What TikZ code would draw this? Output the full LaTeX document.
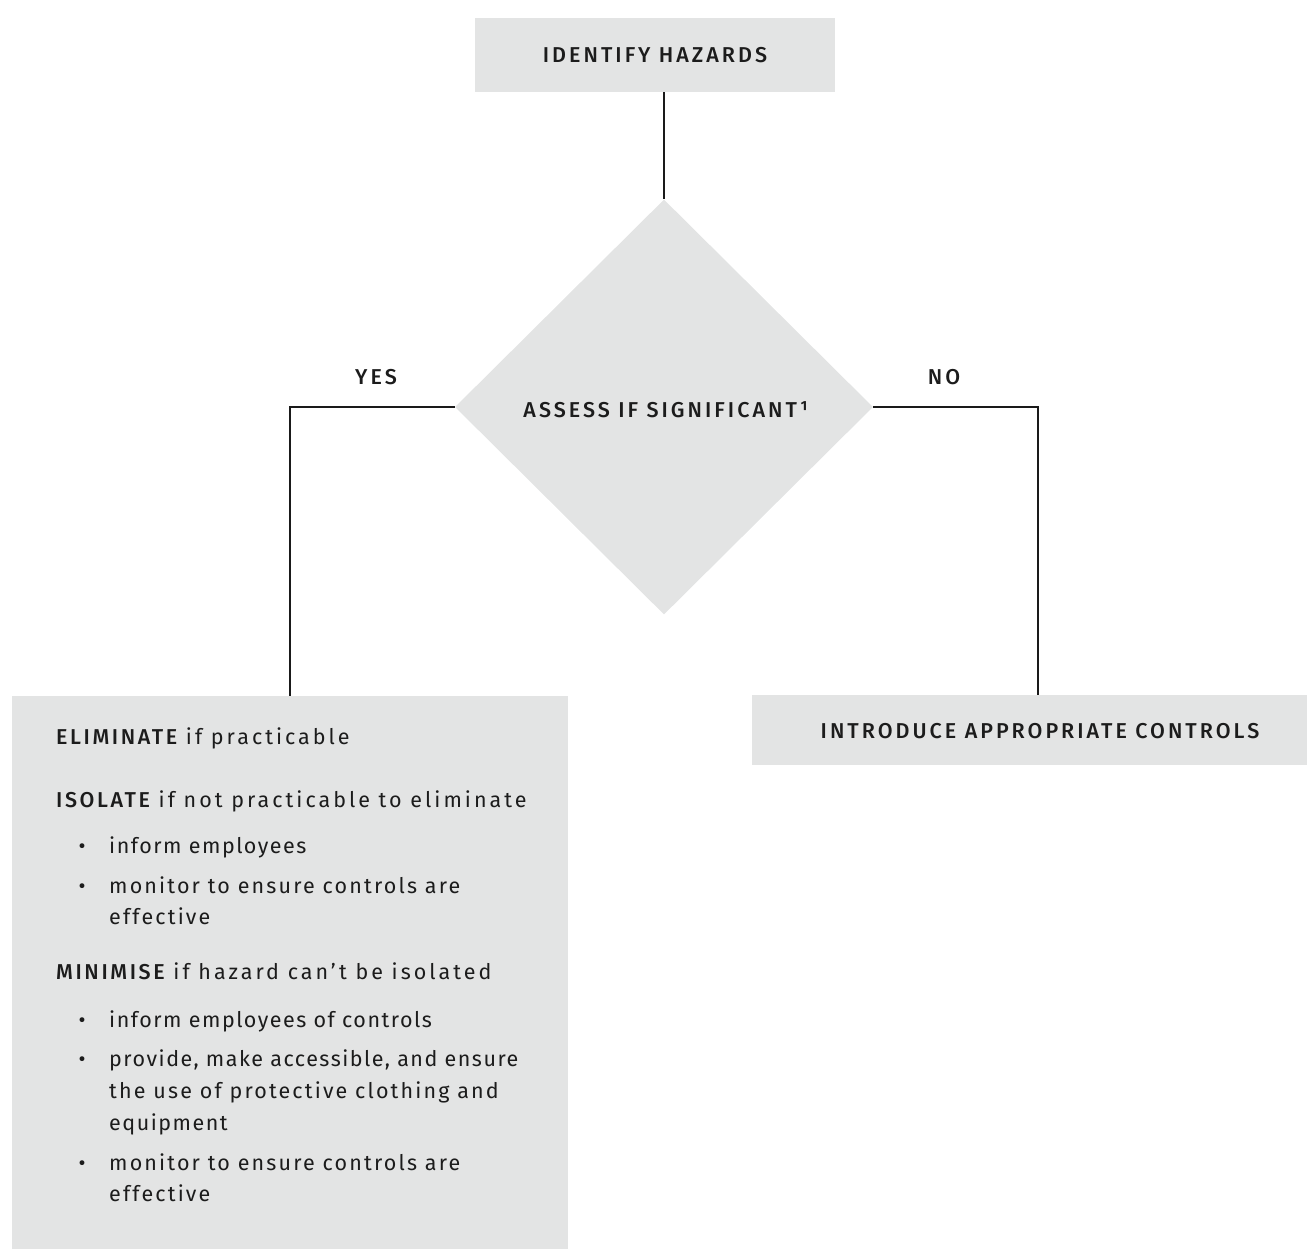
\documentclass[tikz,border=0pt]{standalone}
\usepackage{fontspec}
\setmainfont{Fira Sans}
\newfontfamily\bodyfont[LetterSpace=7]{Fira Sans}
\newfontfamily\midfont[LetterSpace=10]{Fira Sans}
\newfontfamily\widefont[LetterSpace=14]{Fira Sans}
\newfontfamily\headfont[LetterSpace=14]{Fira Sans Medium}
\newfontfamily\inboldfont[LetterSpace=12]{Fira Sans Medium}
\usetikzlibrary{shapes.geometric}
\definecolor{boxgray}{HTML}{E3E4E4}
\definecolor{linecol}{HTML}{1A1A1A}
\definecolor{txt}{HTML}{1C1C1C}
\tikzset{
  grayrect/.style={fill=boxgray, draw=none, inner sep=0pt, rectangle},
  headtext/.style={font=\headfont\fontsize{21.5}{24}\selectfont, text=txt},
  bodyline/.style={font=\bodyfont\fontsize{21.5}{26}\selectfont, anchor=base west, inner sep=0pt, text=txt},
  midline/.style={bodyline, font=\midfont\fontsize{21.5}{26}\selectfont},
  wideline/.style={bodyline, font=\widefont\fontsize{21.5}{26}\selectfont},
  bullet/.style={font=\bodyfont\fontsize{21.5}{26}\selectfont, anchor=base, inner sep=0pt, text=txt},
  conn/.style={draw=linecol, line width=1.2pt},
}
\newcommand{\hb}[1]{{\inboldfont\fontsize{21.5}{26}\selectfont #1}}
\begin{document}
\begin{tikzpicture}[x=1pt,y=-1pt]
\useasboundingbox (0,0) rectangle (1311,1248);
% top box
\node[grayrect, minimum width=360pt, minimum height=74pt, headtext] (top) at (655,55) {IDENTIFY HAZARDS};
% diamond
\node[diamond, fill=boxgray, inner sep=0pt, minimum width=418pt, minimum height=415pt, aspect=1] (dia) at (664,407) {};
\node[headtext, inner sep=0pt] (diatext) at (666,410) {ASSESS IF SIGNIFICANT¹};
% labels
\node[headtext, inner sep=0pt] (yes) at (376,377) {YES};
\node[headtext, inner sep=0pt] (no) at (944,377) {NO};
% right box
\node[grayrect, minimum width=555pt, minimum height=70pt] (rbox) at (1029.5,730) {};
\node[headtext, inner sep=0pt] (rtext) at (1040,731) {INTRODUCE APPROPRIATE CONTROLS};
% left box
\node[grayrect, minimum width=556pt, minimum height=560pt] (lbox) at (290,976) {};
\node[wideline] (l1) at (56,744) {\hb{ELIMINATE} if practicable};
\node[wideline] (l2) at (56,807) {\hb{ISOLATE} if not practicable to eliminate};
\node[bullet] (b1) at (82,853) {•};
\node[bodyline] (l3) at (109,853) {inform employees};
\node[bullet] (b2) at (82,893) {•};
\node[midline] (l4) at (109,893) {monitor to ensure controls are};
\node[midline] (l5) at (109,924) {effective};
\node[wideline] (l6) at (56,979) {\hb{MINIMISE} if hazard can’t be isolated};
\node[bullet] (b3) at (82,1027) {•};
\node[bodyline] (l7) at (109,1027) {inform employees of controls};
\node[bullet] (b4) at (82,1066) {•};
\node[bodyline] (l8) at (109,1066) {provide, make accessible, and ensure};
\node[midline] (l9) at (109,1098) {the use of protective clothing and};
\node[bodyline] (l10) at (109,1130) {equipment};
\node[bullet] (b5) at (82,1170) {•};
\node[midline] (l11) at (109,1170) {monitor to ensure controls are};
\node[midline] (l12) at (109,1201) {effective};
% connectors
\draw[conn] (dia.north |- top.south) -- (dia.north);
\draw[conn] (dia.west) -| (lbox.north);
\draw[conn] (dia.east) -| ([xshift=8.5pt]rbox.north);
\end{tikzpicture}
\end{document}
